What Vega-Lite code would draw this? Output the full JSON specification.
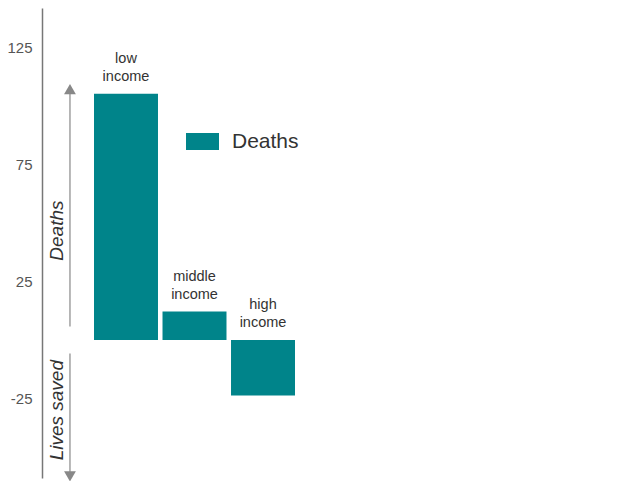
{
  "$schema": "https://vega.github.io/schema/vega-lite/v6.json",
  "width": 582,
  "height": 470,
  "autosize": {"type": "none"},
  "padding": {"left": 42, "top": 8, "right": 0, "bottom": 3},
  "background": "white",
  "config": {
    "view": {"stroke": null},
    "font": "Liberation Sans",
    "text": {"font": "Liberation Sans"}
  },
  "datasets": {
    "bars": [
      {"group": "low income", "value": 105.3, "series": "Deaths"},
      {"group": "middle income", "value": 12.2, "series": "Deaths"},
      {"group": "high income", "value": -23.7, "series": "Deaths"}
    ],
    "arrows": [
      {"dir": "Deaths", "from": 5.8, "to": 106.5, "head": 107.3, "shape": "triangle-up", "mid": 46.8},
      {"dir": "Lives saved", "from": -5.8, "to": -57.5, "head": -58.3, "shape": "triangle-down", "mid": -30}
    ]
  },
  "layer": [
    {
      "data": {"name": "bars"},
      "mark": {"type": "bar", "orient": "vertical"},
      "encoding": {
        "x": {
          "field": "group",
          "type": "nominal",
          "sort": null,
          "scale": {
            "domain": ["", "low income", "middle income", "high income"],
            "range": [-16.5, 253],
            "paddingInner": 0.066,
            "paddingOuter": 0
          },
          "axis": null
        },
        "y": {
          "field": "value",
          "type": "quantitative",
          "scale": {"domain": [-59, 142], "nice": false, "zero": false},
          "axis": {
            "values": [-25, 25, 75, 125],
            "labelExpr": "'' + datum.value",
            "title": null,
            "grid": false,
            "ticks": false,
            "domainColor": "#777777",
            "domainWidth": 1.5,
            "labelFontSize": 15,
            "labelColor": "#555555",
            "labelPadding": 10,
            "labelFont": "Liberation Sans"
          }
        },
        "y2": {"datum": 0},
        "color": {
          "field": "series",
          "type": "nominal",
          "scale": {"range": ["#00848a"]},
          "legend": {
            "title": null,
            "orient": "none",
            "legendX": 144,
            "legendY": 117,
            "padding": 0,
            "symbolType": "M-1,-0.515H1V0.515H-1Z",
            "symbolSize": 1089,
            "symbolStrokeWidth": 0,
            "symbolOpacity": 1,
            "labelFontSize": 21,
            "labelColor": "#333333",
            "labelOffset": 13,
            "labelFont": "Liberation Sans"
          }
        }
      }
    },
    {
      "data": {"name": "bars"},
      "transform": [{"calculate": "max(datum.value, 0)", "as": "top"}],
      "mark": {
        "type": "text",
        "baseline": "bottom",
        "dy": -28,
        "fontSize": 14.5,
        "color": "#333333",
        "lineBreak": " ",
        "lineHeight": 18
      },
      "encoding": {
        "x": {"field": "group", "type": "nominal", "sort": null, "bandPosition": 0.5},
        "y": {"field": "top", "type": "quantitative"},
        "text": {"field": "group"}
      }
    },
    {
      "mark": {"type": "rule", "color": "#888888", "strokeWidth": 1},
      "encoding": {"y": {"datum": 0}}
    },
    {
      "data": {"name": "arrows"},
      "mark": {"type": "rule", "color": "#999999", "strokeWidth": 1.4},
      "encoding": {
        "x": {"datum": "", "bandPosition": 0.695},
        "y": {"field": "from", "type": "quantitative"},
        "y2": {"field": "to"}
      }
    },
    {
      "data": {"name": "arrows"},
      "mark": {"type": "point", "filled": true, "color": "#888888", "size": 140, "opacity": 1},
      "encoding": {
        "x": {"datum": "", "bandPosition": 0.695},
        "y": {"field": "head", "type": "quantitative"},
        "shape": {"field": "shape", "type": "nominal", "scale": null}
      }
    },
    {
      "data": {"name": "arrows"},
      "mark": {
        "type": "text",
        "angle": 270,
        "align": "center",
        "baseline": "middle",
        "fontSize": 19,
        "fontStyle": "italic",
        "color": "#333333"
      },
      "encoding": {
        "x": {"datum": "", "bandPosition": 0.5},
        "y": {"field": "mid", "type": "quantitative"},
        "text": {"field": "dir"}
      }
    }
  ]
}
